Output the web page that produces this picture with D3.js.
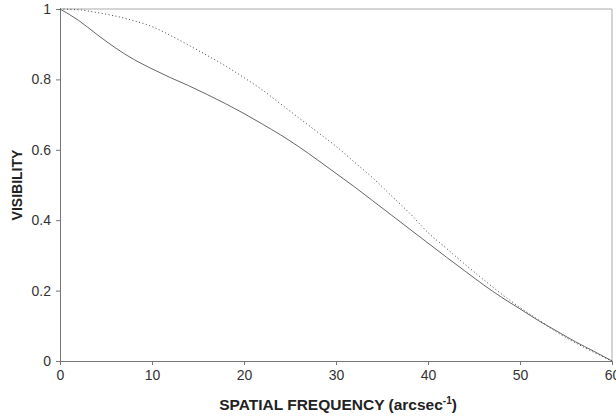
<!DOCTYPE html>
<html>
<head>
<meta charset="utf-8">
<script src="https://cdn.jsdelivr.net/npm/d3@7"></script>
<style>
  body { margin: 0; background: #fff; }
  svg { display: block; font-family: "Liberation Sans", Arial, sans-serif; }
</style>
</head>
<body>
<svg id="chart"></svg>
<script>
var width = 616;
var height = 419;

// spatial frequency (arcsec^-1)
var freq = [0, 2, 4, 6, 8, 10, 12, 14, 16, 18, 20, 22, 24, 26, 28, 30, 32, 34, 36, 38, 40, 42, 44, 46, 48, 50, 52, 54, 56, 58, 60];
// solid curve
var solidVis = [1, 0.968, 0.928, 0.89, 0.857, 0.83, 0.805, 0.782, 0.757, 0.731, 0.703, 0.673, 0.642, 0.608, 0.571, 0.533, 0.495, 0.455, 0.415, 0.375, 0.335, 0.295, 0.256, 0.217, 0.181, 0.148, 0.115, 0.085, 0.055, 0.028, 0];
// dotted curve
var dottedVis = [1, 0.998, 0.99, 0.98, 0.967, 0.95, 0.925, 0.897, 0.868, 0.838, 0.805, 0.77, 0.73, 0.69, 0.65, 0.61, 0.565, 0.52, 0.47, 0.42, 0.365, 0.32, 0.275, 0.232, 0.19, 0.152, 0.117, 0.082, 0.052, 0.025, 0];

var xTicks = [0, 10, 20, 30, 40, 50, 60];
var yTicks = [0, 0.2, 0.4, 0.6, 0.8, 1];
var yTickLabels = ['0', '0.2', '0.4', '0.6', '0.8', '1'];

var margin = {top: 9, right: 4, bottom: 58, left: 60};

var x = d3.scaleLinear().domain([0, 60]).range([margin.left, width - margin.right]);
var y = d3.scaleLinear().domain([0, 1]).range([height - margin.bottom, margin.top]);

var svg = d3.select('#chart').attr('width', width).attr('height', height);

// frame (top + right)
svg.append('path')
  .attr('d', `M${x(0)},${y(1)}H${x(60)}V${y(0)}`)
  .attr('fill', 'none')
  .attr('stroke', '#aaa')
  .attr('stroke-width', 1);

var xAxis = svg.append('g')
  .attr('transform', `translate(0,${y(0)})`)
  .call(d3.axisBottom(x).tickValues(xTicks).tickSize(4).tickPadding(5).tickFormat(d3.format('d')));

var yAxis = svg.append('g')
  .attr('transform', `translate(${x(0)},0)`)
  .call(d3.axisLeft(y).tickValues(yTicks).tickSize(4).tickPadding(5)
    .tickFormat((d, i) => yTickLabels[i]));

[xAxis, yAxis].forEach(a => {
  a.select('.domain').attr('stroke', '#777');
  a.selectAll('.tick line').attr('stroke', '#777');
  a.selectAll('.tick text')
    .attr('fill', '#333')
    .style('font-size', '14px')
    .style('font-family', '"Liberation Sans", Arial, sans-serif');
});

var line = d3.line()
  .x((d, i) => x(freq[i]))
  .y(d => y(d))
  .curve(d3.curveMonotoneX);

svg.append('path')
  .datum(solidVis)
  .attr('d', line)
  .attr('fill', 'none')
  .attr('stroke', '#666')
  .attr('stroke-width', 1);

svg.append('path')
  .datum(dottedVis)
  .attr('d', line)
  .attr('fill', 'none')
  .attr('stroke', '#444')
  .attr('stroke-width', 1)
  .attr('stroke-dasharray', '1,2.5');

// axis titles
var xt = svg.append('text')
  .attr('x', 338)
  .attr('y', 410)
  .attr('text-anchor', 'middle')
  .attr('fill', '#222')
  .style('font-size', '15.5px')
  .style('font-weight', 'bold');
xt.append('tspan').text('SPATIAL FREQUENCY (arcsec');
xt.append('tspan').attr('dy', '-6').style('font-size', '10px').text('-1');
xt.append('tspan').attr('dy', '6').text(')');

svg.append('text')
  .attr('transform', `translate(22,${(y(0) + y(1)) / 2}) rotate(-90)`)
  .attr('text-anchor', 'middle')
  .attr('fill', '#222')
  .style('font-size', '14px')
  .style('font-weight', 'bold')
  .text('VISIBILITY');
</script>
</body>
</html>
